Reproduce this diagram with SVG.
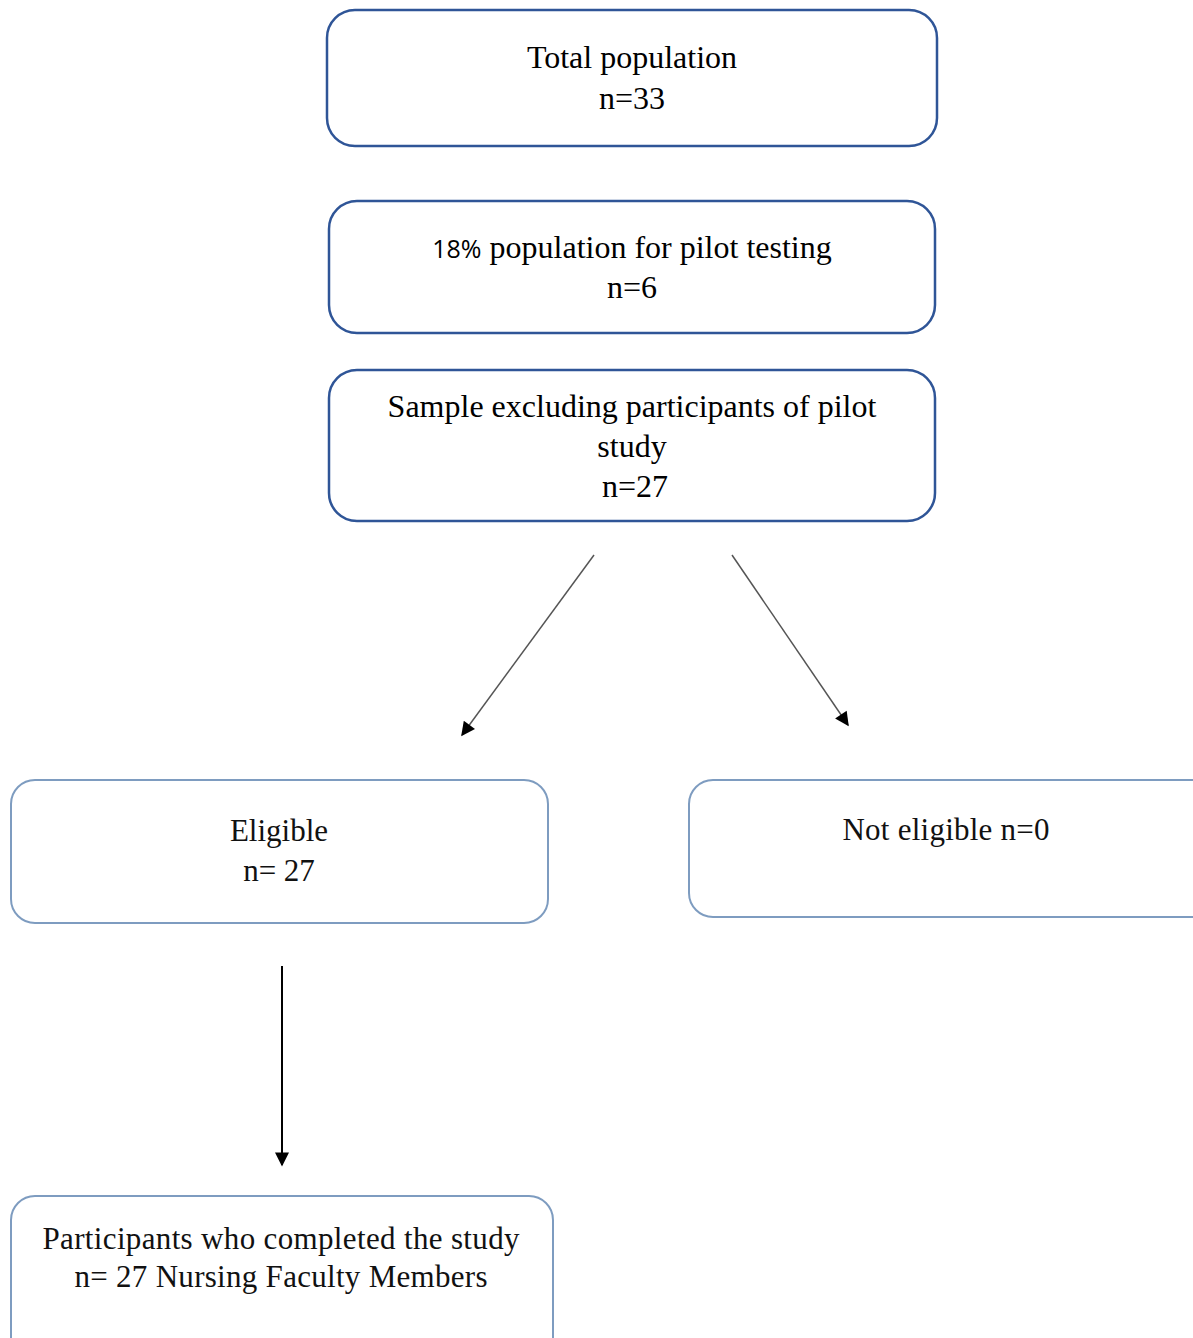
<svg xmlns="http://www.w3.org/2000/svg" width="1193" height="1338" viewBox="0 0 1193 1338">
  <defs>
    <marker id="headBig" viewBox="0 0 10 10" refX="9" refY="5" markerWidth="16" markerHeight="14" markerUnits="userSpaceOnUse" orient="auto">
      <path d="M0,0 L10,5 L0,10 z" fill="#000"/>
    </marker>
    <style>
      .box { fill: #fff; stroke: #2F5597; stroke-width: 2.5; }
      .box2 { fill: #fff; stroke: #7E9CC0; stroke-width: 2; }
      .t { font-family: "Liberation Serif", "Times New Roman", serif; font-size: 32px; fill: #000; text-anchor: middle; }
      .t2 { font-family: "Liberation Serif", "Times New Roman", serif; font-size: 31px; fill: #111; text-anchor: middle; }
      .sans { font-family: "Open Sans", "Liberation Sans", sans-serif; font-size: 25px; }
    </style>
  </defs>

  <g id="total-population">
    <rect class="box" x="327" y="10" width="610" height="136" rx="28"/>
    <text class="t" x="632" y="68">Total population</text>
    <text class="t" x="632" y="109">n=33</text>
  </g>

  <g id="pilot-testing">
    <rect class="box" x="329" y="201" width="606" height="132" rx="28"/>
    <text class="t" x="632" y="258"><tspan class="sans">18%</tspan> population for pilot testing</text>
    <text class="t" x="632" y="298">n=6</text>
  </g>

  <g id="sample">
    <rect class="box" x="329" y="370" width="606" height="151" rx="28"/>
    <text class="t" x="632" y="417">Sample excluding participants of pilot</text>
    <text class="t" x="632" y="457">study</text>
    <text class="t" x="635" y="497">n=27</text>
  </g>

  <g id="eligible">
    <rect class="box2" x="11" y="780" width="537" height="143" rx="24"/>
    <text class="t2" x="279" y="841">Eligible</text>
    <text class="t2" x="279" y="881">n= 27</text>
  </g>

  <g id="not-eligible">
    <rect class="box2" x="689" y="780" width="530" height="137" rx="24"/>
    <text class="t2" x="946" y="840" textLength="207" lengthAdjust="spacing">Not eligible n=0</text>
  </g>

  <g id="completed">
    <rect class="box2" x="11" y="1196" width="542" height="170" rx="24"/>
    <text class="t2" x="281" y="1249" textLength="477" lengthAdjust="spacing">Participants who completed the study</text>
    <text class="t2" x="281" y="1287" textLength="413" lengthAdjust="spacing">n= 27 Nursing Faculty Members</text>
  </g>

  <g id="connectors">
    <line x1="594" y1="555" x2="462" y2="735" stroke="#555" stroke-width="1.5" marker-end="url(#headBig)"/>
    <line x1="732" y1="555" x2="848" y2="725" stroke="#555" stroke-width="1.5" marker-end="url(#headBig)"/>
    <line x1="282" y1="966" x2="282" y2="1165" stroke="#000" stroke-width="2" marker-end="url(#headBig)"/>
  </g>
</svg>
